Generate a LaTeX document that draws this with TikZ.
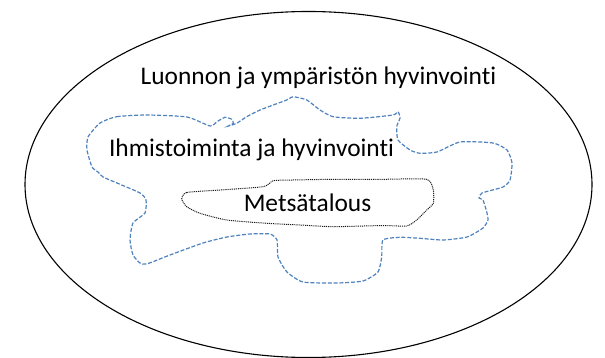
\documentclass[tikz,border=0pt]{standalone}
\usepackage{fontspec}
\setmainfont{Carlito}[Ligatures=NoCommon]
\usetikzlibrary{positioning}
\definecolor{blobblue}{RGB}{79,129,189}
\tikzset{
  lbl/.style={anchor=base,inner sep=0pt,font=\fontsize{25.4pt}{30pt}\selectfont},
  humanline/.style={draw=blobblue,line width=1.2pt,dash pattern=on 4pt off 1.8pt},
  forestline/.style={draw=black!90,line width=1pt,dash pattern=on 1pt off 0.9pt}
}
\begin{document}
\begin{tikzpicture}[x=1pt,y=-1pt]
\useasboundingbox (0,0) rectangle (605,358);
\draw[line width=1.1pt] (308.5,184.5) ellipse [x radius=283.5pt, y radius=173pt];

\draw[humanline] plot[smooth cycle,tension=0.35] coordinates {
(100,123) (116.7,116.7) (146.7,115) (187,117) (210,126) (217,121.7) (225,117.3)
(231.7,119.3) (233.3,123.3) (228.3,126) (236.7,123.3) (246.7,116.7) (260,110)
(286.7,100) (293,96.7) (306.7,100) (320,110) (333,116.7) (360,118.3) (393,115)
(398,111.7) (400,118) (396.7,126.7) (398,140) (410,150) (420,153.3) (437,152)
(460,142) (493,143) (507,150) (512,163) (510,180) (503,187) (482,193) (479,198)
(483,200) (487,213) (488,220) (483,228) (467,237) (443,240) (420,238.3)
(400,237.3) (383,240) (381.7,257) (378,272) (363,281) (337,283) (303,282)
(287,272) (278,257) (277,240) (270,234) (250,234) (227,237) (203,243) (170,255)
(146.7,264) (140,263) (133,255) (130,240) (133,223) (145,213) (146,200) (140,193)
(117,183) (103,177) (98,172) (92,167) (87,150) (88,137)};

\draw[forestline] plot[smooth cycle,tension=0.35] coordinates {
(181.7,199) (186.7,192.5) (220,190) (263.3,186.7) (273.3,180.7) (293,180)
(333,179.3) (383,179.3) (426.7,179.3) (433.3,190) (433.3,203.3) (426.7,210)
(416.7,220) (406.7,226) (383,225.5) (333.3,226.7) (300,225) (266.7,223.3)
(226.7,220) (200,213.3) (186.7,206.7)};

\node[lbl] (nature) at (318.5,85) {Luonnon ja ympäristön hyvinvointi};
\node[lbl] (human) at (251.5,156.7) {Ihmistoiminta ja hyvinvointi};
\node[lbl] (forest) at (307.5,211.7) {Metsätalous};
\end{tikzpicture}
\end{document}
